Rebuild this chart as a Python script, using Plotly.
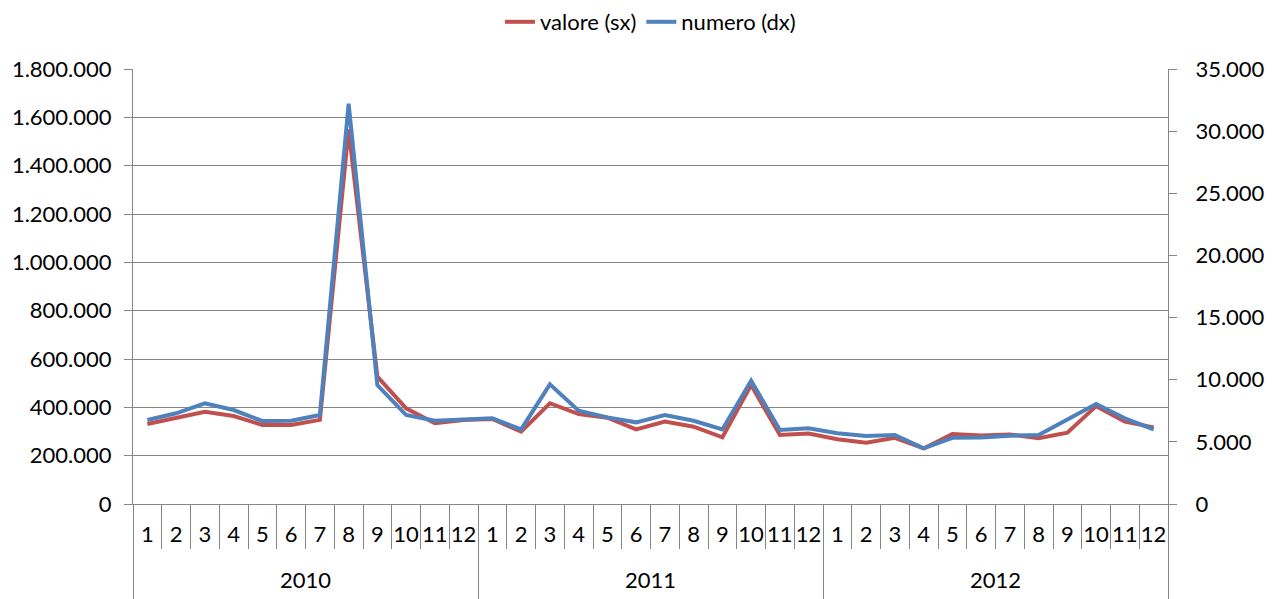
import plotly.graph_objects as go

year_names = ["2010", "2011", "2012"]
month_names = [str(m) for m in range(1, 13)]
years = [y for y in year_names for _ in month_names]
months = month_names * 3
cats = [f"{y}-{m}" for y, m in zip(years, months)]

valore = [331000, 355000, 382000, 364000, 327000, 327000, 348000, 1550000, 527000, 396000, 334000, 348000,
          352000, 299000, 417000, 372000, 357000, 309000, 341000, 320000, 276000, 492000, 286000, 292000,
          268000, 254000, 274000, 230000, 290000, 283000, 288000, 272000, 295000, 405000, 341000, 317000]
numero = [6760, 7300, 8100, 7560, 6680, 6700, 7160, 32200, 9570, 7160, 6700, 6800,
          6890, 6000, 9630, 7500, 6970, 6570, 7160, 6700, 6000, 9920, 5950, 6090,
          5690, 5470, 5550, 4480, 5330, 5360, 5500, 5550, 6810, 8040, 6890, 6000]

FONT = "Lato"
FS = 22
GRID = "#868686"

n = len(cats)
xr = [-0.5, n - 0.5]
# category index units: boundaries between months, year centres and year boundaries
month_bounds = [i - 0.5 for i in range(n + 1)]
year_centres = [cats.index(f"{y}-1") + (len(month_names) - 1) / 2 for y in year_names]
year_bounds = [cats.index(f"{y}-1") - 0.5 for y in year_names] + [n - 0.5]

fig = go.Figure()
fig.add_trace(go.Scatter(x=cats, y=valore, name="valore (sx)", mode="lines",
                         line=dict(color="#C0504D", width=4), xaxis="x", yaxis="y"))
fig.add_trace(go.Scatter(x=cats, y=numero, name="numero (dx)", mode="lines",
                         line=dict(color="#4F81BD", width=4), xaxis="x", yaxis="y2"))
# empty helper traces so the overlaying label axes are drawn
for ax in ["x2", "x3", "x4"]:
    fig.add_trace(go.Scatter(x=[None], y=[None], xaxis=ax, yaxis="y", mode="lines",
                             showlegend=False, hoverinfo="skip"))

fig.update_layout(
    width=1268, height=591,
    margin=dict(l=125, r=108, t=61, b=95, autoexpand=False),
    paper_bgcolor="white", plot_bgcolor="white",
    separators=",.",
    font=dict(family=FONT, size=FS, color="black"),
    showlegend=True,
    legend=dict(orientation="h", x=0.5, xanchor="center", y=1 - 14 / 591, yanchor="middle",
                yref="container", font=dict(size=FS, family=FONT)),
    # month labels
    xaxis=dict(type="category", range=xr, tickmode="array", tickvals=cats, ticktext=months,
               showgrid=False, showline=True, linecolor=GRID, linewidth=1, ticks="",
               tickangle=0, ticklabelstandoff=11, automargin=False,
               tickfont=dict(size=FS, family=FONT)),
    # month separators
    xaxis2=dict(type="linear", range=xr, overlaying="x", anchor="y", side="bottom",
                tickmode="array", tickvals=month_bounds, ticks="outside", ticklen=44,
                tickcolor=GRID, showticklabels=False, showgrid=False, showline=False,
                zeroline=False, automargin=False),
    # year labels
    xaxis3=dict(type="linear", range=xr, overlaying="x", anchor="y", side="bottom",
                tickmode="array", tickvals=year_centres, ticktext=year_names, ticks="",
                ticklabelstandoff=61, tickangle=0, showgrid=False, showline=False, zeroline=False,
                automargin=False, tickfont=dict(size=FS, family=FONT)),
    # year separators
    xaxis4=dict(type="linear", range=xr, overlaying="x", anchor="y", side="bottom",
                tickmode="array", tickvals=year_bounds, ticks="outside", ticklen=95,
                tickcolor=GRID, showticklabels=False,
                showgrid=False, showline=False, zeroline=False, automargin=False),
    yaxis=dict(range=[0, 1800000], dtick=200000, tickformat=",d", showgrid=True, gridcolor=GRID,
               gridwidth=1, showline=True, linecolor=GRID, ticks="outside", ticklen=8, tickcolor=GRID,
               zeroline=False, automargin=False, ticklabelstandoff=8,
               tickfont=dict(size=FS, family=FONT)),
    yaxis2=dict(range=[0, 35000], dtick=5000, tickformat=",d", overlaying="y", side="right",
                showgrid=False, showline=True, linecolor=GRID, ticks="outside", ticklen=8,
                tickcolor=GRID, zeroline=False, automargin=False, ticklabelstandoff=14,
                tickfont=dict(size=FS, family=FONT)),
)

fig.write_html("out.html")
